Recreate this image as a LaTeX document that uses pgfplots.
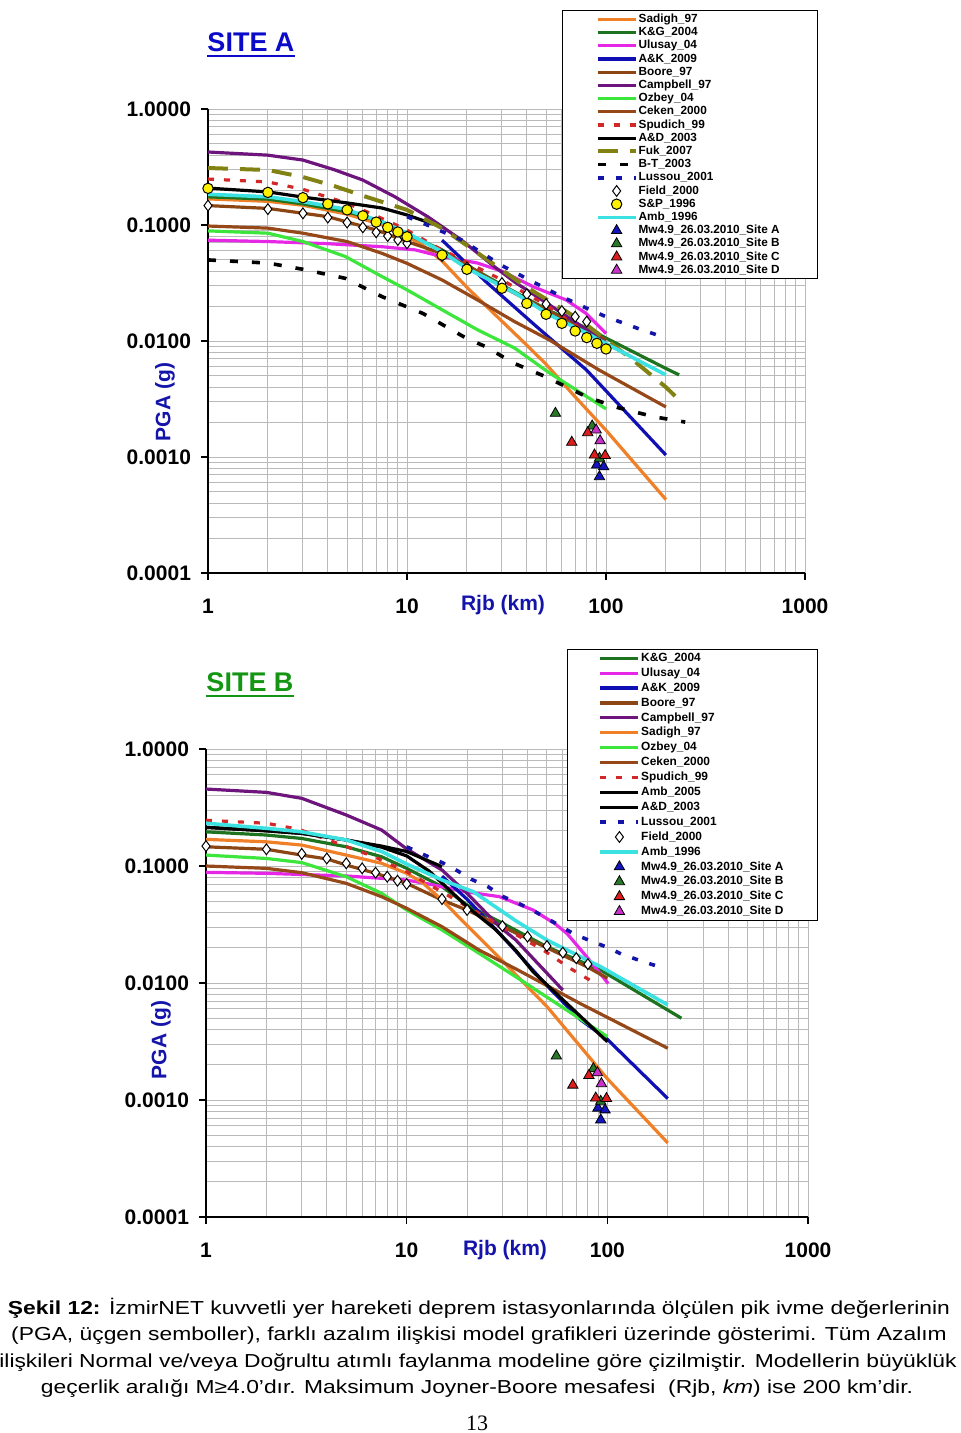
\documentclass[border=0pt]{standalone}
\usepackage{fontspec}
\setmainfont{Liberation Sans}
\newfontfamily\seriffont{Liberation Serif}
\usepackage{graphicx}
\usepackage{pgfplots}
\pgfplotsset{compat=1.18}
\pgfplotsset{legend image code/.code={\draw[mark repeat=2,mark phase=2,#1] plot coordinates {(0pt,0pt) (9.5pt,0pt) (19pt,0pt)};}}

\definecolor{csadigh}{RGB}{240,128,40}
\definecolor{ckg}{RGB}{30,115,30}
\definecolor{culusay}{RGB}{230,40,230}
\definecolor{cak}{RGB}{15,15,180}
\definecolor{cboore}{RGB}{140,70,20}
\definecolor{ccampbell}{RGB}{110,20,125}
\definecolor{cozbey}{RGB}{60,230,60}
\definecolor{cceken}{RGB}{150,72,25}
\definecolor{cspudich}{RGB}{210,40,40}
\definecolor{cfuk}{RGB}{130,130,20}
\definecolor{clussou}{RGB}{20,20,170}
\definecolor{camb}{RGB}{60,225,225}
\definecolor{ctriA}{RGB}{20,20,190}
\definecolor{ctriB}{RGB}{40,120,40}
\definecolor{ctriC}{RGB}{220,30,30}
\definecolor{ctriD}{RGB}{200,50,200}
\definecolor{titleblue}{RGB}{10,10,200}
\definecolor{titlegreen}{RGB}{20,150,20}
\definecolor{labelblue}{RGB}{20,20,170}

\begin{document}
\begin{tikzpicture}
\path[use as bounding box] (0,0) rectangle (480pt,-716.5pt);

% ---------------- SITE A ----------------
\begin{axis}[
  scale only axis,
  width=298.5pt, height=232pt,
  at={(104pt,-286.5pt)}, anchor=south west,
  xmode=log, ymode=log,
  xmin=1, xmax=1000, ymin=0.0001, ymax=1,
  xtick={1,10,100,1000},
  xticklabels={\textbf{1},\textbf{10},\textbf{100},\textbf{1000}},
  ytick={0.0001,0.001,0.01,0.1,1},
  yticklabels={\textbf{0.0001},\textbf{0.0010},\textbf{0.0100},\textbf{0.1000},\textbf{1.0000}},
  minor xtick={2,3,4,5,6,7,8,9,20,30,40,50,60,70,80,90,200,300,400,500,600,700,800,900},
  minor ytick={0.0002,0.0003,0.0004,0.0005,0.0006,0.0007,0.0008,0.0009,0.002,0.003,0.004,0.005,0.006,0.007,0.008,0.009,0.02,0.03,0.04,0.05,0.06,0.07,0.08,0.09,0.2,0.3,0.4,0.5,0.6,0.7,0.8,0.9},
  grid=both,
  major grid style={draw=black!27, line width=0.5pt},
  minor grid style={draw=black!27, line width=0.5pt},
  axis x line*=bottom, axis y line*=left,
  axis line style={line width=0.9pt, -},
  tick style={black, line width=0.6pt},
  major tick length=3.5pt, minor tick length=0pt,
  tick align=outside,
  tick label style={font=\fontsize{10.5}{12}\selectfont},
  xticklabel style={yshift=-6pt},
  yticklabel style={xshift=-1.5pt},
  legend cell align=left,
  legend style={at={(rel axis cs:0.593,1.213)}, anchor=north west, draw=black, line width=0.6pt, fill=white,
    font=\fontsize{5.9}{6}\selectfont\bfseries, inner xsep=16.5pt, inner ysep=1pt, row sep=0pt,
    nodes={inner sep=0.5pt, text height=4.4pt, text depth=1.2pt}},
]
\addplot[line width=1.6pt, color=csadigh] coordinates {(1,0.168) (2,0.16) (3,0.148) (5,0.124) (7.5,0.1) (10,0.08) (12,0.067) (15,0.049) (20,0.029) (30,0.0148) (40,0.0092) (50,0.0063) (70,0.0033) (100,0.0017) (200,0.00043)};
\addlegendentry{Sadigh\_97}
\addplot[line width=1.6pt, color=ckg] coordinates {(1,0.175) (2,0.167) (3,0.152) (5,0.13) (7.5,0.107) (10,0.083) (15,0.061) (20,0.045) (30,0.0304) (50,0.0188) (80,0.0129) (100,0.0106) (200,0.0058) (233,0.0051)};
\addlegendentry{K\&G\_2004}
\addplot[line width=1.6pt, color=culusay] coordinates {(1,0.074) (2,0.072) (4,0.069) (7.5,0.065) (11,0.061) (15,0.0535) (22.6,0.047) (30,0.040) (43,0.0294) (63,0.0226) (79,0.0174) (92.5,0.0133) (100,0.0116)};
\addlegendentry{Ulusay\_04}
\addplot[line width=1.6pt, color=cak] coordinates {(15,0.074) (25,0.0323) (34.7,0.0196) (42.7,0.0143) (80,0.0056) (200,0.00104)};
\addlegendentry{A\&K\_2009}
\addplot[line width=1.6pt, color=cboore] coordinates {(1,0.147) (2,0.139) (4,0.118) (7,0.0907) (10,0.072) (15,0.0569) (20,0.045) (30,0.0295) (50,0.0185) (80,0.0125) (100,0.0102)};
\addlegendentry{Boore\_97}
\addplot[line width=1.6pt, color=ccampbell] coordinates {(1,0.426) (2,0.40) (3,0.363) (4.3,0.30) (6,0.244) (8.7,0.175) (12.7,0.118) (18.75,0.0743) (27.5,0.0437) (35,0.032) (52,0.0205) (80,0.0125) (100,0.0095)};
\addlegendentry{Campbell\_97}
\addplot[line width=1.6pt, color=cozbey] coordinates {(1,0.089) (2,0.085) (3,0.072) (4.9,0.0535) (7.5,0.0359) (10,0.0276) (15,0.0186) (22.6,0.0125) (34.7,0.0087) (52,0.0053) (100,0.0026)};
\addlegendentry{Ozbey\_04}
\addplot[line width=1.6pt, color=cceken] coordinates {(1,0.098) (2,0.094) (3,0.085) (5,0.072) (7.5,0.0569) (10,0.0467) (15,0.0336) (22.6,0.0226) (34.7,0.0147) (52,0.0102) (92.7,0.0056) (200,0.0027)};
\addlegendentry{Ceken\_2000}
\addplot[line width=1.6pt, color=cspudich, dash pattern=on 3pt off 5pt] coordinates {(1,0.249) (2,0.235) (3,0.203) (5,0.154) (7,0.12) (9.75,0.0925) (14,0.065) (30,0.0336) (50,0.0204) (90,0.0102)};
\addlegendentry{Spudich\_99}
\addplot[line width=1.6pt, color=black] coordinates {(1,0.208) (2,0.193) (3,0.174) (5,0.155) (7.5,0.140) (10,0.122) (15,0.096)};
\addlegendentry{A\&D\_2003}
\addplot[line width=2pt, color=cfuk, dash pattern=on 10pt off 6pt] coordinates {(1,0.31) (2,0.298) (3,0.259) (4.3,0.217) (6.3,0.174) (10,0.135) (15,0.094) (25,0.051) (40,0.029) (74,0.0152) (136,0.0069) (200,0.0040) (233,0.0031)};
\addlegendentry{Fuk\_2007}
\addplot[line width=1.8pt, color=black, dash pattern=on 4pt off 7pt] coordinates {(1,0.050) (2,0.047) (3,0.0415) (4.9,0.0347) (7.5,0.0241) (12,0.0173) (20,0.0105) (25,0.0089) (34,0.0065) (50,0.0049) (80,0.0033) (115,0.00266) (175,0.00222) (250,0.002)};
\addlegendentry{B-T\_2003}
\addplot[line width=1.8pt, color=clussou, dash pattern=on 3pt off 6pt] coordinates {(10,0.118) (12.3,0.102) (18.8,0.0743) (25.4,0.0535) (30,0.0447) (42.7,0.0325) (60,0.0241) (83,0.0186) (100,0.0162) (147,0.0127) (180,0.0113)};
\addlegendentry{Lussou\_2001}
\addplot[only marks, color=black, mark=diamond*, mark size=2.7pt, mark options={solid, fill=white, draw=black, line width=0.5pt}] coordinates {(1,0.147) (2,0.137) (3,0.126) (4,0.116) (5,0.105) (6,0.0955) (7,0.0865) (8,0.0804) (9,0.0743) (10,0.0695) (15,0.054) (20,0.043) (30,0.0316) (40,0.0253) (50,0.0208) (60,0.0181) (70,0.0162) (80,0.0147)};
\addlegendentry{Field\_2000}
\addplot[only marks, color=black, mark=*, mark size=2.6pt, mark options={solid, fill=yellow, draw=black, line width=0.5pt}] coordinates {(1,0.207) (2,0.191) (3,0.172) (4,0.152) (5,0.135) (6,0.120) (7,0.106) (8,0.0955) (9,0.0871) (10,0.0793) (15,0.0551) (20,0.0415) (30,0.0285) (40,0.0211) (50,0.0170) (60,0.0142) (70,0.0122) (80,0.0107) (90,0.00955) (100,0.00854)};
\addlegendentry{S\&P\_1996}
\addplot[line width=1.8pt, color=camb] coordinates {(1,0.184) (2,0.175) (3,0.159) (4.9,0.137) (7.4,0.107) (10,0.0853) (15,0.0589) (20,0.0423) (35,0.0259) (52,0.0168) (80,0.0117) (100,0.0095) (200,0.0051)};
\addlegendentry{Amb\_1996}
\addplot[only marks, color=black, mark=triangle*, mark size=3pt, mark options={solid, fill=ctriA, draw=black, line width=0.4pt}] coordinates {(89.8,0.000853) (97.3,0.000824) (92.7,0.000676)};
\addlegendentry{Mw4.9\_26.03.2010\_Site A\hspace*{2pt}}
\addplot[only marks, color=black, mark=triangle*, mark size=3pt, mark options={solid, fill=ctriB, draw=black, line width=0.4pt}] coordinates {(55.7,0.00238) (85.2,0.00185) (92.7,0.000975)};
\addlegendentry{Mw4.9\_26.03.2010\_Site B}
\addplot[only marks, color=black, mark=triangle*, mark size=3pt, mark options={solid, fill=ctriC, draw=black, line width=0.4pt}] coordinates {(67.3,0.00134) (80.9,0.00162) (87.5,0.00104) (99,0.00103)};
\addlegendentry{Mw4.9\_26.03.2010\_Site C}
\addplot[only marks, color=black, mark=triangle*, mark size=3pt, mark options={solid, fill=ctriD, draw=black, line width=0.4pt}] coordinates {(89.2,0.00171) (93.4,0.00138)};
\addlegendentry{Mw4.9\_26.03.2010\_Site D}
\end{axis}

% ---------------- SITE B ----------------
\begin{axis}[
  scale only axis,
  width=301pt, height=234pt,
  at={(103pt,-608.5pt)}, anchor=south west,
  xmode=log, ymode=log,
  xmin=1, xmax=1000, ymin=0.0001, ymax=1,
  xtick={1,10,100,1000},
  xticklabels={\textbf{1},\textbf{10},\textbf{100},\textbf{1000}},
  ytick={0.0001,0.001,0.01,0.1,1},
  yticklabels={\textbf{0.0001},\textbf{0.0010},\textbf{0.0100},\textbf{0.1000},\textbf{1.0000}},
  minor xtick={2,3,4,5,6,7,8,9,20,30,40,50,60,70,80,90,200,300,400,500,600,700,800,900},
  minor ytick={0.0002,0.0003,0.0004,0.0005,0.0006,0.0007,0.0008,0.0009,0.002,0.003,0.004,0.005,0.006,0.007,0.008,0.009,0.02,0.03,0.04,0.05,0.06,0.07,0.08,0.09,0.2,0.3,0.4,0.5,0.6,0.7,0.8,0.9},
  grid=both,
  major grid style={draw=black!27, line width=0.5pt},
  minor grid style={draw=black!27, line width=0.5pt},
  axis x line*=bottom, axis y line*=left,
  axis line style={line width=0.9pt, -},
  tick style={black, line width=0.6pt},
  major tick length=3.5pt, minor tick length=0pt,
  tick align=outside,
  tick label style={font=\fontsize{10.5}{12}\selectfont},
  xticklabel style={yshift=-6pt},
  yticklabel style={xshift=-1.5pt},
  legend cell align=left,
  legend style={at={(rel axis cs:0.5997,1.2137)}, anchor=north west, draw=black, line width=0.6pt, fill=white,
    font=\fontsize{5.95}{6}\selectfont\bfseries, inner xsep=15.5pt, inner ysep=1pt, row sep=0.85pt,
    nodes={inner sep=0.5pt, text height=4.4pt, text depth=1.2pt}},
]
\addplot[line width=1.6pt, color=ckg] coordinates {(1,0.196) (2,0.184) (3,0.172) (5,0.146) (7.5,0.12) (10,0.0955) (15,0.0666) (20,0.0464) (30,0.0325) (50,0.0204) (92.5,0.0129) (234,0.005)};
\addlegendentry{K\&G\_2004}
\addplot[line width=1.6pt, color=culusay] coordinates {(1,0.0883) (2,0.0866) (5,0.0822) (10,0.0759) (13,0.070) (20,0.060) (29,0.0547) (42.6,0.0421) (55,0.032) (62.8,0.0266) (78.8,0.0168) (101,0.0099)};
\addlegendentry{Ulusay\_04}
\addplot[line width=1.6pt, color=cak] coordinates {(15,0.082) (20,0.052) (30,0.025) (40,0.0145) (50,0.0095) (73,0.0049) (100,0.0033) (200,0.00103)};
\addlegendentry{A\&K\_2009}
\addplot[line width=1.6pt, color=cboore] coordinates {(1,0.146) (2,0.139) (3,0.124) (4,0.115) (5,0.102) (7,0.0866) (10,0.0711) (15,0.0512) (20,0.042) (30,0.0303) (50,0.02) (79,0.0138) (100,0.011)};
\addlegendentry{Boore\_97}
\addplot[line width=1.6pt, color=ccampbell] coordinates {(1,0.455) (2,0.426) (3,0.379) (5,0.273) (7.5,0.203) (10,0.14) (15,0.0924) (20,0.0584) (29,0.0303) (35,0.0233) (60,0.0087)};
\addlegendentry{Campbell\_97}
\addplot[line width=1.6pt, color=csadigh] coordinates {(1,0.169) (2,0.161) (3,0.151) (5,0.124) (7.5,0.1055) (10,0.0866) (12,0.072) (15,0.0512) (20,0.031) (30,0.0155) (40,0.0093) (50,0.0063) (73,0.0029) (100,0.00152) (200,0.00043)};
\addlegendentry{Sadigh\_97}
\addplot[line width=1.6pt, color=cozbey] coordinates {(1,0.124) (2,0.116) (3,0.107) (5,0.081) (7.5,0.0584) (10,0.0421) (15,0.0284) (23,0.0179) (35,0.0113) (100,0.00348)};
\addlegendentry{Ozbey\_04}
\addplot[line width=1.6pt, color=cceken] coordinates {(1,0.1) (2,0.0955) (3,0.0877) (5,0.0711) (7.5,0.0547) (10,0.0435) (15,0.0303) (23,0.0191) (35,0.0132) (73,0.0067) (200,0.00277)};
\addlegendentry{Ceken\_2000}
\addplot[line width=1.6pt, color=cspudich, dash pattern=on 3pt off 5pt] coordinates {(1,0.246) (2,0.232) (2.9,0.206) (7,0.119) (8.2,0.104) (9.8,0.0912) (15,0.06) (33,0.0275) (48,0.0191) (65,0.0134) (90,0.0096)};
\addlegendentry{Spudich\_99}
\addplot[line width=1.6pt, color=black] coordinates {(1,0.214) (2,0.2) (3,0.19) (5,0.167) (7.5,0.145) (10,0.122) (13,0.09) (20,0.045) (27.5,0.029) (35,0.019) (42.6,0.0125) (60,0.0072) (100,0.00315)};
\addlegendentry{Amb\_2005}
\addplot[line width=1.6pt, color=black] coordinates {(1,0.214) (2,0.2) (3,0.19) (5,0.167) (7.5,0.148) (10,0.133) (15,0.0987)};
\addlegendentry{A\&D\_2003}
\addplot[line width=1.8pt, color=clussou, dash pattern=on 3pt off 6pt] coordinates {(10,0.146) (12.3,0.124) (15,0.107) (18,0.0906) (21,0.077) (25.4,0.0666) (30,0.0551) (36.6,0.0474) (43.5,0.0408) (60,0.0299) (68,0.0263) (83,0.0228) (100,0.0202) (118,0.0176) (145,0.0156) (180,0.0138)};
\addlegendentry{Lussou\_2001}
\addplot[only marks, color=black, mark=diamond*, mark size=2.7pt, mark options={solid, fill=white, draw=black, line width=0.5pt}] coordinates {(1,0.148) (2,0.139) (3,0.127) (4,0.116) (5,0.1055) (6,0.0955) (7,0.0877) (8,0.081) (9,0.0749) (10,0.0702) (15,0.0522) (20,0.0421) (30,0.0307) (40,0.0249) (50,0.0207) (60,0.0182) (70,0.0163) (80,0.0145)};
\addlegendentry{Field\_2000}
\addplot[line width=1.8pt, color=camb] coordinates {(1,0.232) (2,0.21) (3,0.196) (5,0.167) (7.5,0.133) (10,0.104) (15,0.076) (21.5,0.0603) (35,0.034) (50,0.0233) (92.5,0.0138) (200,0.0065)};
\addlegendentry{Amb\_1996}
\addplot[only marks, color=black, mark=triangle*, mark size=3pt, mark options={solid, fill=ctriA, draw=black, line width=0.4pt}] coordinates {(89.8,0.000853) (97.3,0.000824) (92.7,0.000676)};
\addlegendentry{Mw4.9\_26.03.2010\_Site A\hspace*{1pt}}
\addplot[only marks, color=black, mark=triangle*, mark size=3pt, mark options={solid, fill=ctriB, draw=black, line width=0.4pt}] coordinates {(55.7,0.00238) (85.2,0.00185) (92.7,0.000975)};
\addlegendentry{Mw4.9\_26.03.2010\_Site B}
\addplot[only marks, color=black, mark=triangle*, mark size=3pt, mark options={solid, fill=ctriC, draw=black, line width=0.4pt}] coordinates {(67.3,0.00134) (80.9,0.00162) (87.5,0.00104) (99,0.00103)};
\addlegendentry{Mw4.9\_26.03.2010\_Site C}
\addplot[only marks, color=black, mark=triangle*, mark size=3pt, mark options={solid, fill=ctriD, draw=black, line width=0.4pt}] coordinates {(89.2,0.00171) (93.4,0.00138)};
\addlegendentry{Mw4.9\_26.03.2010\_Site D}
\end{axis}

% ---------------- titles and labels ----------------
\node[anchor=base, inner sep=0, text=titleblue, font=\fontsize{13.5}{14}\bfseries] (tA) at (125.5pt,-25.8pt) {SITE A};
\draw[titleblue, line width=1pt] ([yshift=-2pt]tA.base west) -- ([yshift=-2pt]tA.base east);
\node[anchor=base, inner sep=0, text=titlegreen, font=\fontsize{13.5}{14}\bfseries] (tB) at (125pt,-345.8pt) {SITE B};
\draw[titlegreen, line width=1pt] ([yshift=-2pt]tB.base west) -- ([yshift=-2pt]tB.base east);

\node[text=labelblue, font=\fontsize{10.5}{12}\bfseries] at (251.5pt,-302.5pt) {Rjb (km)};
\node[text=labelblue, font=\fontsize{10.5}{12}\bfseries, rotate=90] at (82.5pt,-201pt) {PGA (g)};
\node[text=labelblue, font=\fontsize{10.5}{12}\bfseries] at (252.5pt,-625pt) {Rjb (km)};
\node[text=labelblue, font=\fontsize{10.5}{12}\bfseries, rotate=90] at (80.5pt,-520pt) {PGA (g)};

% ---------------- caption ----------------
\node[anchor=base, inner sep=0, font=\fontsize{9.4}{12}\selectfont] at (239.5pt,-657pt) {\scalebox{1.214}[1]{\textbf{Şekil 12:} İzmirNET kuvvetli yer hareketi deprem istasyonlarında ölçülen pik ivme değerlerinin}};
\node[anchor=base, inner sep=0, font=\fontsize{9.4}{12}\selectfont] at (239.5pt,-670.2pt) {\scalebox{1.214}[1]{(PGA, üçgen semboller), farklı azalım ilişkisi model grafikleri üzerinde gösterimi. Tüm Azalım}};
\node[anchor=base, inner sep=0, font=\fontsize{9.4}{12}\selectfont] at (239pt,-683.5pt) {\scalebox{1.214}[1]{ilişkileri Normal ve/veya Doğrultu atımlı faylanma modeline göre çizilmiştir. Modellerin büyüklük}};
\node[anchor=base, inner sep=0, font=\fontsize{9.4}{12}\selectfont] at (238.5pt,-696.8pt) {\scalebox{1.214}[1]{geçerlik aralığı M≥4.0’dır. Maksimum Joyner-Boore mesafesi \ (Rjb, \textit{km}) ise 200 km’dir.}};
\node[anchor=base, inner sep=0, font=\seriffont\fontsize{11}{12}\selectfont] at (238.5pt,-715pt) {13};
\end{tikzpicture}
\end{document}
